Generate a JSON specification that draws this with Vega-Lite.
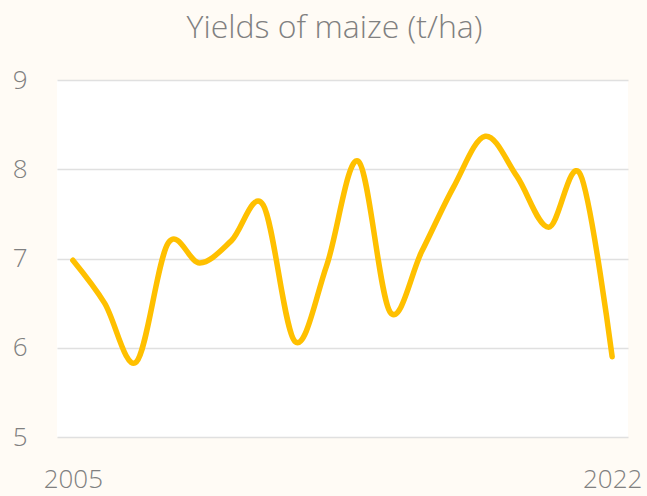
{
  "$schema": "https://vega.github.io/schema/vega-lite/v6.json",
  "width": 571,
  "height": 357,
  "autosize": "none",
  "padding": {"left": 57, "top": 80, "right": 19, "bottom": 59},
  "background": "#FFFBF5",
  "title": {
    "text": "Yields of maize (t/ha)",
    "font": "Open Sans",
    "fontSize": 32,
    "fontWeight": 300,
    "color": "#808080",
    "anchor": "middle",
    "baseline": "bottom",
    "offset": -10,
    "dx": -8
  },
  "config": {
    "view": {"fill": "white", "stroke": null}
  },
  "data": {
    "values": [
      {"year": 2005, "yield": 6.98},
      {"year": 2006, "yield": 6.5},
      {"year": 2007, "yield": 5.84},
      {"year": 2008, "yield": 7.17},
      {"year": 2009, "yield": 6.95},
      {"year": 2010, "yield": 7.2},
      {"year": 2011, "yield": 7.6},
      {"year": 2012, "yield": 6.07},
      {"year": 2013, "yield": 6.92},
      {"year": 2014, "yield": 8.09},
      {"year": 2015, "yield": 6.4},
      {"year": 2016, "yield": 7.08},
      {"year": 2017, "yield": 7.8},
      {"year": 2018, "yield": 8.37},
      {"year": 2019, "yield": 7.92},
      {"year": 2020, "yield": 7.35},
      {"year": 2021, "yield": 7.94},
      {"year": 2022, "yield": 5.9}
    ]
  },
  "mark": {
    "type": "line",
    "interpolate": "cardinal",
    "color": "#FFC000",
    "strokeWidth": 5.5,
    "strokeCap": "round",
    "strokeJoin": "round"
  },
  "encoding": {
    "x": {
      "field": "year",
      "type": "ordinal",
      "scale": {"type": "point", "padding": 0.5},
      "axis": {
        "title": null,
        "values": [2005, 2022],
        "labelAngle": 0,
        "domain": false,
        "ticks": false,
        "grid": false,
        "labelFont": "Open Sans",
        "labelFontWeight": 300,
        "labelFontSize": 26,
        "labelColor": "#808080",
        "labelPadding": 29
      }
    },
    "y": {
      "field": "yield",
      "type": "quantitative",
      "scale": {"domain": [5, 9], "nice": false, "zero": false},
      "axis": {
        "title": null,
        "values": [5, 6, 7, 8, 9],
        "domain": false,
        "ticks": false,
        "grid": true,
        "gridColor": "#E0E0E0",
        "gridWidth": 1.5,
        "labelFont": "Open Sans",
        "labelFontWeight": 300,
        "labelFontSize": 26,
        "labelColor": "#808080",
        "labelPadding": 30
      }
    }
  }
}
